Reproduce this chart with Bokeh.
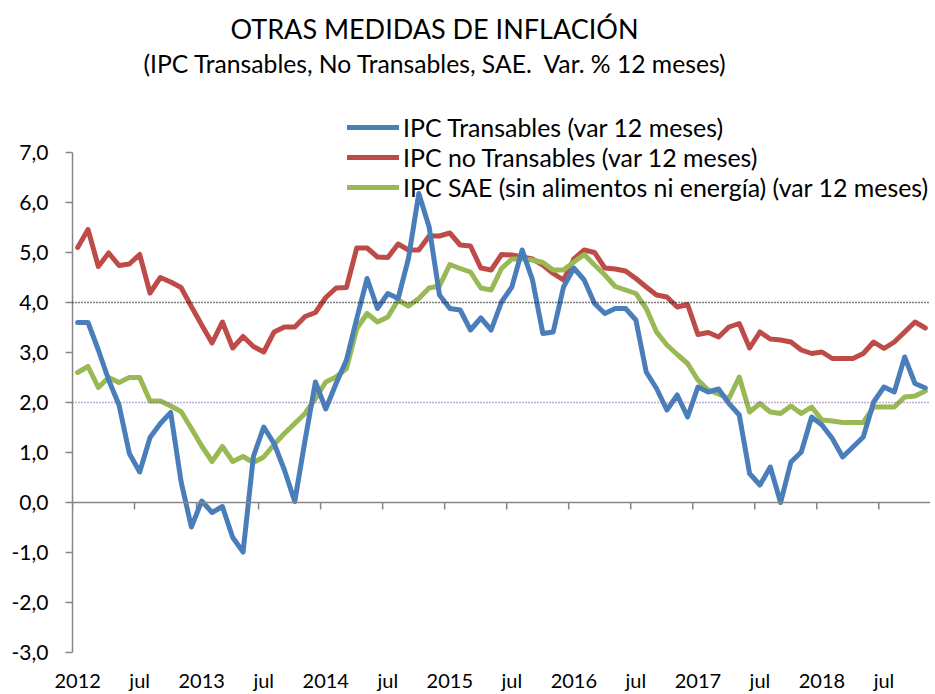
from bokeh.plotting import figure
from bokeh.models import Range1d, FixedTicker, Span, Legend, LegendItem, Title
from bokeh.embed import file_html
from bokeh.resources import INLINE

# ---------------- data (monthly, Jan 2012 .. Nov 2018) ----------------
months = list(range(83))
x_label_pos = [0, 6, 12, 18, 24, 30, 36, 42, 48, 54, 60, 66, 72, 78]
x_tick_labels = ["2012", "jul", "2013", "jul", "2014", "jul", "2015", "jul",
                 "2016", "jul", "2017", "jul", "2018", "jul"]
x_bounds = [-0.5, 5.5, 11.5, 17.5, 23.5, 29.5, 35.5, 41.5, 47.5, 53.5, 59.5, 65.5, 71.5, 77.5]

transables = [3.60, 3.60, 3.05, 2.45, 1.95, 0.98, 0.61, 1.30, 1.58, 1.80,
              0.42, -0.49, 0.03, -0.20, -0.08, -0.70, -0.99, 0.92, 1.51, 1.18,
              0.65, 0.02, 1.25, 2.41, 1.87, 2.38, 2.85, 3.68, 4.48, 3.88,
              4.18, 4.08, 4.88, 6.18, 5.51, 4.15, 3.88, 3.85, 3.45, 3.69,
              3.45, 4.01, 4.31, 5.05, 4.45, 3.38, 3.41, 4.31, 4.69, 4.45,
              3.98, 3.78, 3.88, 3.88, 3.65, 2.61, 2.28, 1.85, 2.15, 1.71,
              2.31, 2.21, 2.27, 1.98, 1.75, 0.58, 0.35, 0.71, 0.00, 0.81,
              1.01, 1.71, 1.55, 1.28, 0.91, 1.11, 1.31, 2.01, 2.31, 2.21,
              2.91, 2.38, 2.29]

no_transables = [5.10, 5.46, 4.72, 4.99, 4.74, 4.77, 4.96, 4.19, 4.50, 4.41,
                 4.30, 3.92, 3.55, 3.19, 3.61, 3.09, 3.32, 3.12, 3.01, 3.41,
                 3.51, 3.51, 3.72, 3.80, 4.10, 4.29, 4.30, 5.09, 5.09, 4.91,
                 4.90, 5.17, 5.05, 5.05, 5.33, 5.33, 5.39, 5.15, 5.13, 4.69,
                 4.65, 4.96, 4.95, 4.91, 4.87, 4.75, 4.58, 4.45, 4.87, 5.05,
                 5.00, 4.69, 4.67, 4.63, 4.48, 4.31, 4.15, 4.11, 3.91, 3.96,
                 3.36, 3.40, 3.31, 3.51, 3.58, 3.09, 3.41, 3.27, 3.25, 3.21,
                 3.05, 2.98, 3.01, 2.88, 2.88, 2.88, 2.98, 3.21, 3.08, 3.21,
                 3.41, 3.61, 3.49]

sae = [2.60, 2.72, 2.30, 2.50, 2.40, 2.50, 2.50, 2.03, 2.03, 1.93,
       1.82, 1.48, 1.13, 0.82, 1.12, 0.82, 0.92, 0.80, 0.91, 1.16,
       1.38, 1.58, 1.78, 2.08, 2.41, 2.51, 2.68, 3.48, 3.78, 3.61,
       3.71, 4.05, 3.93, 4.08, 4.29, 4.33, 4.76, 4.68, 4.61, 4.29,
       4.25, 4.68, 4.87, 4.87, 4.85, 4.80, 4.65, 4.65, 4.81, 4.96,
       4.75, 4.55, 4.32, 4.25, 4.18, 3.88, 3.41, 3.15, 2.96, 2.78,
       2.45, 2.25, 2.17, 2.08, 2.51, 1.81, 1.98, 1.81, 1.78, 1.93,
       1.78, 1.91, 1.65, 1.63, 1.60, 1.60, 1.60, 1.91, 1.91, 1.91,
       2.11, 2.13, 2.23]

y_ticks = [-3, -2, -1, 0, 1, 2, 3, 4, 5, 6, 7]
y_tick_labels = ["-3,0", "-2,0", "-1,0", "0,0", "1,0", "2,0", "3,0", "4,0", "5,0", "6,0", "7,0"]
ref_upper = 4.0
ref_lower = 2.0

series_names = ["IPC Transables (var 12 meses)",
                "IPC no Transables (var 12 meses)",
                "IPC SAE (sin alimentos ni energía) (var 12 meses)"]

title_text = "OTRAS MEDIDAS DE INFLACIÓN"
subtitle_text = "(IPC Transables, No Transables, SAE.\u00a0 Var. % 12 meses)"

# ---------------- styling ----------------
FONT = "Lato"
BLUE = "#4A7EBB"
RED = "#BE4B48"
GREEN = "#98B954"
AXIS_GRAY = "#868686"

p = figure(frame_width=858, frame_height=572, output_backend="svg", toolbar_location=None,
           x_range=Range1d(-0.5, 82.5), y_range=Range1d(-3, 8.44),
           min_border_left=72, min_border_right=0, min_border_bottom=0, min_border_top=0)
p.outline_line_color = None
p.xgrid.grid_line_color = None
p.ygrid.grid_line_color = None
p.background_fill_color = "white"
p.border_fill_color = "white"

# titles (subtitle closest to the plot, then main title, then a small top spacer)
p.title.text = ""
p.title.standoff = 0
sub = Title(text=subtitle_text, align="left", offset=71, standoff=5,
            text_font=FONT, text_font_size="24.7px", text_font_style="normal", text_color="black")
main = Title(text=title_text, align="left", offset=158, standoff=0,
             text_font=FONT, text_font_size="27px", text_font_style="normal", text_color="black")
spacer = Title(text=" ", standoff=6, text_font_size="1px", text_color="white")
p.add_layout(sub, "above")
p.add_layout(main, "above")
p.add_layout(spacer, "above")

# reference dotted lines
p.add_layout(Span(location=ref_upper, dimension="width", line_color="black",
                  line_width=1.5, line_dash="1 2"))
p.add_layout(Span(location=ref_lower, dimension="width", line_color="#8064A2",
                  line_width=1.5, line_dash="1 2"))

# horizontal axis line at zero with tick marks between categories
p.add_layout(Span(location=0, dimension="width", line_color=AXIS_GRAY, line_width=1.5))
p.segment(x0=x_bounds, y0=[0] * len(x_bounds), x1=x_bounds, y1=[-0.14] * len(x_bounds),
          line_color=AXIS_GRAY, line_width=1.5)

# series
r_red = p.line(months, no_transables, line_color=RED, line_width=5, line_join="round", line_cap="round")
r_green = p.line(months, sae, line_color=GREEN, line_width=5, line_join="round", line_cap="round")
r_blue = p.line(months, transables, line_color=BLUE, line_width=5, line_join="round", line_cap="round")

# y axis
p.yaxis.ticker = FixedTicker(ticks=y_ticks)
p.yaxis.major_label_overrides = dict(zip(y_ticks, y_tick_labels))
p.yaxis.bounds = (-3, 7)
p.yaxis.axis_line_color = AXIS_GRAY
p.yaxis.axis_line_width = 1.5
p.yaxis.major_tick_line_color = AXIS_GRAY
p.yaxis.major_tick_line_width = 1.5
p.yaxis.major_tick_in = 0
p.yaxis.major_tick_out = 7
p.yaxis.minor_tick_line_color = None
p.yaxis.major_label_standoff = 17
p.yaxis.major_label_text_font = FONT
p.yaxis.major_label_text_font_size = "21px"
p.yaxis.major_label_text_color = "black"

# x axis (labels at the bottom)
p.xaxis.ticker = FixedTicker(ticks=x_label_pos)
p.xaxis.major_label_overrides = dict(zip(x_label_pos, x_tick_labels))
p.xaxis.axis_line_color = None
p.xaxis.major_tick_line_color = None
p.xaxis.minor_tick_line_color = None
p.xaxis.major_tick_in = 0
p.xaxis.major_tick_out = 0
p.xaxis.major_label_standoff = 15
p.xaxis.major_label_text_font = FONT
p.xaxis.major_label_text_font_size = "20px"
p.xaxis.major_label_text_color = "black"

# legend
legend = Legend(items=[LegendItem(label=series_names[0], renderers=[r_blue]),
                       LegendItem(label=series_names[1], renderers=[r_red]),
                       LegendItem(label=series_names[2], renderers=[r_green])],
                location=(275, 450), glyph_width=52, glyph_height=30, label_height=30,
                spacing=0, padding=0, margin=0, label_standoff=4,
                label_text_font=FONT, label_text_font_size="24.9px", label_text_color="black",
                background_fill_alpha=0, border_line_alpha=0)
p.add_layout(legend)

open("out.html", "w").write(file_html(p, INLINE))
